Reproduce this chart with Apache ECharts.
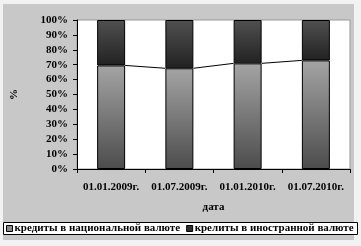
<!DOCTYPE html>
<html><head><meta charset="utf-8">
<script src="https://cdn.jsdelivr.net/npm/echarts@6/dist/echarts.min.js"></script>
<style>html,body{margin:0;padding:0;background:#f2f2f2;}#c{width:361px;height:246px;}</style>
</head><body><div id="c"></div>
<script>
var categories = ['01.01.2009г.', '01.07.2009г.', '01.01.2010г.', '01.07.2010г.'];
var seriesNames = ['кредиты в национальной валюте', 'крелиты в иностранной валюте'];
var national = [69.5, 67.6, 70.9, 72.9];
var foreign = [30.5, 32.4, 29.1, 27.1];
var yTicks = ['0%', '10%', '20%', '30%', '40%', '50%', '60%', '70%', '80%', '90%', '100%'];

var font = '"Liberation Serif", "Times New Roman", serif';
var chart = echarts.init(document.getElementById('c'), null, {renderer: 'canvas'});
var barPct = 0.41;
chart.setOption({
  animation: false,
  backgroundColor: 'transparent',
  graphic: [
    {type: 'rect', z: -10, shape: {x: 3, y: 4, width: 351, height: 236}, style: {fill: '#c8c8c8'}},
    {type: 'rect', z: 1, shape: {x: 3.5, y: 222.5, width: 354, height: 12}, style: {fill: '#fff', stroke: '#000', lineWidth: 1}}
  ],
  grid: {left: 77, right: 11, top: 20, bottom: 77, show: true, backgroundColor: '#fff', borderColor: '#999', borderWidth: 1},
  legend: {
    left: 6, top: 223, width: 355, padding: 0, icon: 'rect', itemWidth: 6, itemHeight: 6, itemGap: 6, z: 5,
    textStyle: {fontFamily: font, fontWeight: 'bold', fontSize: 11, color: '#000', padding: [1, 0, 0, -3]},
    data: [
      {name: seriesNames[0], itemStyle: {color: '#8a8a8a', borderColor: '#000', borderWidth: 1}},
      {name: seriesNames[1], itemStyle: {color: '#303030', borderColor: '#000', borderWidth: 1}}
    ]
  },
  xAxis: {
    type: 'category', data: categories,
    name: 'дата', nameLocation: 'middle', nameGap: 33,
    nameTextStyle: {fontFamily: font, fontWeight: 'bold', fontSize: 11, color: '#000'},
    axisLine: {lineStyle: {color: '#000'}},
    axisTick: {show: true, length: 4, lineStyle: {color: '#000'}},
    axisLabel: {interval: 0, fontFamily: font, fontWeight: 'bold', fontSize: 11, color: '#000', margin: 13}
  },
  yAxis: {
    type: 'value', min: 0, max: 100, interval: 10,
    name: '%', nameLocation: 'middle', nameGap: 57,
    nameTextStyle: {fontFamily: font, fontWeight: 'bold', fontSize: 11, color: '#000'},
    axisLine: {show: true, lineStyle: {color: '#000'}},
    axisTick: {show: true, length: 4, lineStyle: {color: '#000'}},
    splitLine: {show: false},
    axisLabel: {fontFamily: font, fontWeight: 'bold', fontSize: 11, color: '#000', margin: 9,
      formatter: function (v) { return yTicks[Math.round(v / 10)]; }}
  },
  series: [
    {
      name: seriesNames[0], type: 'bar', stack: 's', barWidth: (barPct * 100) + '%', data: national,
      itemStyle: {borderColor: '#000', borderWidth: 1,
        color: new echarts.graphic.LinearGradient(0, 0, 0, 1, [{offset: 0, color: '#a4a4a4'}, {offset: 1, color: '#4c4c4c'}])}
    },
    {
      name: seriesNames[1], type: 'bar', stack: 's', barWidth: (barPct * 100) + '%', data: foreign,
      itemStyle: {borderColor: '#000', borderWidth: 1,
        color: new echarts.graphic.LinearGradient(0, 0, 0, 1, [{offset: 0, color: '#505050'}, {offset: 1, color: '#222222'}])}
    },
    {
      type: 'custom', name: 'connect', silent: true, z: 5,
      data: national.slice(0, national.length - 1).map(function (v, i) { return [i, v]; }),
      renderItem: function (params, api) {
        var i = api.value(0);
        var half = api.size([1, 0])[0] * barPct / 2;
        var p1 = api.coord([i, national[i]]);
        var p2 = api.coord([i + 1, national[i + 1]]);
        return {type: 'line', shape: {x1: p1[0] + half, y1: p1[1], x2: p2[0] - half, y2: p2[1]},
          style: {stroke: '#000', lineWidth: 1}};
      }
    }
  ]
});
</script></body></html>
